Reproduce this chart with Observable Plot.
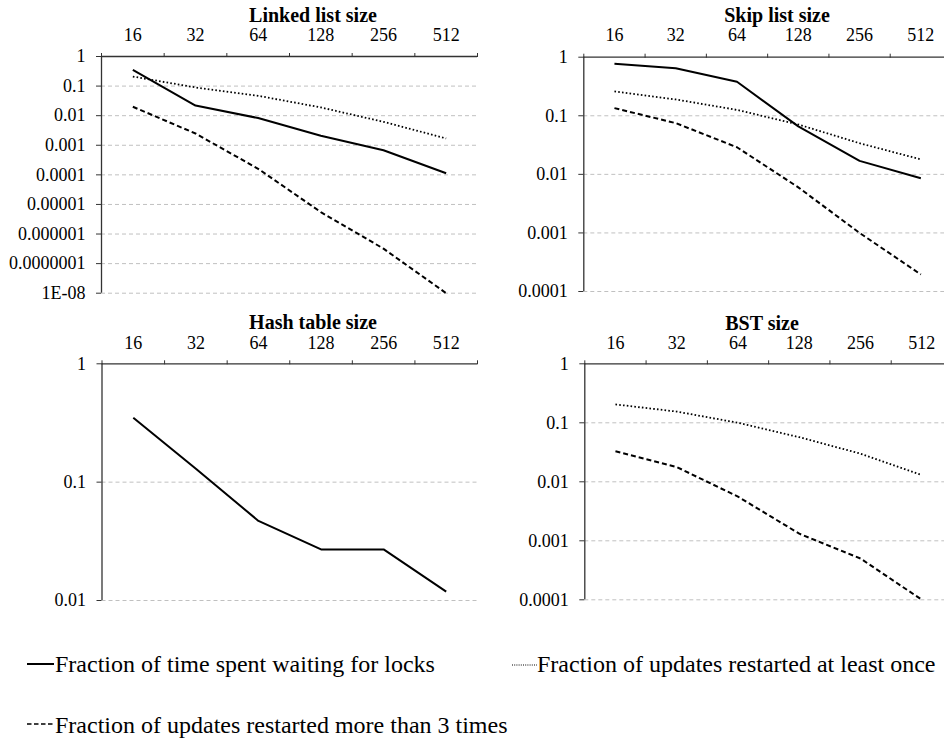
<!DOCTYPE html>
<html>
<head>
<meta charset="utf-8">
<script src="https://cdn.jsdelivr.net/npm/d3@7"></script>
<script src="https://cdn.jsdelivr.net/npm/@observablehq/plot@0.6"></script>
<style>
  html, body { margin: 0; padding: 0; background: #fff; }
  #root { position: relative; width: 944px; height: 740px; overflow: hidden; background: #fff;
          font-family: "Liberation Serif", "Times New Roman", serif; color: #000; }
  .panel { position: absolute; }
  .title { position: absolute; font-weight: bold; font-size: 20px; line-height: 13px; white-space: nowrap; transform: translateX(-50%); }
  .legtext { position: absolute; font-size: 24px; line-height: 24px; white-space: nowrap; }
  .legsample { position: absolute; }
</style>
</head>
<body>
<div id="root"></div>
<script>
// ---------- data ----------
const sizes = [16, 32, 64, 128, 256, 512];
const seriesNames = [
  "Fraction of time spent waiting for locks",
  "Fraction of updates restarted at least once",
  "Fraction of updates restarted more than 3 times"
];
const panelTitles = ["Linked list size", "Skip list size", "Hash table size", "BST size"];

// Linked list
const linkedWait  = [0.35, 0.022, 0.0083, 0.0021, 0.00068, 0.000113];
const linkedOnce  = [0.21, 0.09, 0.047, 0.019, 0.0062, 0.0017];
const linkedMore3 = [0.02, 0.0025, 0.00016, 0.0000055, 0.00000032, 0.00000001];
// Skip list
const skipWait  = [0.77, 0.65, 0.38, 0.066, 0.017, 0.0086];
const skipOnce  = [0.26, 0.19, 0.126, 0.071, 0.034, 0.018];
const skipMore3 = [0.135, 0.075, 0.029, 0.006, 0.001, 0.000195];
// Hash table
const hashWait = [0.35, 0.13, 0.047, 0.027, 0.027, 0.0119];
// BST
const bstOnce  = [0.205, 0.155, 0.10, 0.057, 0.030, 0.013];
const bstMore3 = [0.033, 0.0178, 0.0056, 0.00132, 0.0005, 0.0001];

// y tick values and labels
const ticksLinked  = [1, 0.1, 0.01, 0.001, 0.0001, 0.00001, 0.000001, 0.0000001, 0.00000001];
const labelsLinked = ["1", "0.1", "0.01", "0.001", "0.0001", "0.00001", "0.000001", "0.0000001", "1E-08"];
const ticks4  = [1, 0.1, 0.01, 0.001, 0.0001];
const labels4 = ["1", "0.1", "0.01", "0.001", "0.0001"];
const ticks2  = [1, 0.1, 0.01];
const labels2 = ["1", "0.1", "0.01"];

// ---------- styles ----------
const styles = {
  wait:  {strokeWidth: 2,   strokeDasharray: null},
  once:  {strokeWidth: 1.8, strokeDasharray: "1.6,2.2"},
  more3: {strokeWidth: 2,   strokeDasharray: "5,3"}
};

const root = document.getElementById("root");
const xDomain = [sizes[0] / Math.SQRT2, sizes[sizes.length - 1] * Math.SQRT2];
const xBoundaries = sizes.map(s => s / Math.SQRT2).concat([sizes[sizes.length - 1] * Math.SQRT2]);

function makePanel(cfg) {
  const marks = [];
  const labelMap = new Map(cfg.ticks.map((t, i) => [t, cfg.labels[i]]));
  // dashed gridlines (not the top one, which is the axis line)
  marks.push(Plot.ruleY(cfg.ticks.filter(t => t !== cfg.ticks[0]), {stroke: "#c0c0c0", strokeWidth: 1, strokeDasharray: "4,3"}));
  // series
  for (const s of cfg.series) {
    const data = s.values.map((v, i) => ({size: sizes[i], value: v}));
    marks.push(Plot.line(data, {x: "size", y: "value", stroke: "#000", strokeWidth: styles[s.kind].strokeWidth,
      strokeDasharray: styles[s.kind].strokeDasharray, strokeLinejoin: "miter", strokeLinecap: "butt"}));
  }
  // axis lines
  marks.push(Plot.ruleY([cfg.ticks[0]], {stroke: "#333", strokeWidth: 1.3}));
  marks.push(Plot.ruleX([xDomain[0]], {stroke: "#333", strokeWidth: 1.3}));
  // x ticks at category boundaries, labels at centers (top)
  marks.push(Plot.axisX(xBoundaries, {anchor: "top", tickSize: 4, stroke: "#333", tickFormat: () => "", label: null}));
  marks.push(Plot.axisX(sizes, {anchor: "top", tickSize: 0, tickPadding: cfg.xPad, tickFormat: d => String(d), label: null, fontSize: 18}));
  // y axis
  marks.push(Plot.axisY(cfg.ticks, {anchor: "left", tickSize: 5, tickPadding: 11, stroke: "#333",
    tickFormat: d => labelMap.get(d), label: null, fontSize: 18}));

  const chart = Plot.plot({
    width: cfg.width, height: cfg.height,
    marginLeft: cfg.ml, marginRight: cfg.mr, marginTop: cfg.mt, marginBottom: cfg.mb,
    style: {fontFamily: '"Liberation Serif", "Times New Roman", serif', fontSize: "18px", color: "#000", background: "transparent", overflow: "visible"},
    x: {type: "log", base: 2, domain: xDomain},
    y: {type: "log", domain: [cfg.ticks[cfg.ticks.length - 1], cfg.ticks[0]]},
    marks
  });
  chart.classList.add("panel");
  chart.style.left = cfg.left + "px";
  chart.style.top = cfg.top + "px";
  root.appendChild(chart);

  const t = document.createElement("div");
  t.className = "title";
  t.textContent = cfg.title;
  t.style.left = cfg.titleX + "px";
  t.style.top = (cfg.titleBaseline - 13.25) + "px";
  root.appendChild(t);
}

makePanel({
  title: panelTitles[0], titleX: 313, titleBaseline: 22.3,
  left: 0, top: 0, width: 480, height: 300, ml: 101, mr: 3, mt: 56, mb: 7.3, xPad: 15.8,
  ticks: ticksLinked, labels: labelsLinked,
  series: [{kind: "wait", values: linkedWait}, {kind: "once", values: linkedOnce}, {kind: "more3", values: linkedMore3}]
});
makePanel({
  title: panelTitles[1], titleX: 777, titleBaseline: 22.3,
  left: 470, top: 0, width: 490, height: 300, ml: 113.3, mr: 9, mt: 56.7, mb: 9, xPad: 15.8,
  ticks: ticks4, labels: labels4,
  series: [{kind: "wait", values: skipWait}, {kind: "once", values: skipOnce}, {kind: "more3", values: skipMore3}]
});
makePanel({
  title: panelTitles[2], titleX: 313, titleBaseline: 329.3,
  left: 0, top: 300, width: 480, height: 320, ml: 101.5, mr: 3, mt: 63.3, mb: 20, xPad: 15,
  ticks: ticks2, labels: labels2,
  series: [{kind: "wait", values: hashWait}]
});
makePanel({
  title: panelTitles[3], titleX: 762, titleBaseline: 330.3,
  left: 470, top: 300, width: 490, height: 320, ml: 114.3, mr: 8, mt: 63.3, mb: 20.7, xPad: 15,
  ticks: ticks4, labels: labels4,
  series: [{kind: "once", values: bstOnce}, {kind: "more3", values: bstMore3}]
});

// ---------- legend ----------
const legendItems = [
  {kind: "wait",  name: seriesNames[0], x0: 27,  x1: 54,  textX: 55,  lineY: 664, baseline: 672, width: 2,   dash: null},
  {kind: "once",  name: seriesNames[1], x0: 512, x1: 537, textX: 537, lineY: 665, baseline: 672, width: 1,   dash: "1,1.2"},
  {kind: "more3", name: seriesNames[2], x0: 27,  x1: 55,  textX: 55,  lineY: 724, baseline: 733, width: 1.4, dash: "4.5,2.5"}
];
const NS = "http://www.w3.org/2000/svg";
for (const it of legendItems) {
  const svg = document.createElementNS(NS, "svg");
  svg.setAttribute("class", "legsample");
  svg.setAttribute("width", it.x1 - it.x0);
  svg.setAttribute("height", 6);
  svg.style.left = it.x0 + "px";
  svg.style.top = (it.lineY - 3) + "px";
  const ln = document.createElementNS(NS, "line");
  ln.setAttribute("x1", 0); ln.setAttribute("x2", it.x1 - it.x0);
  ln.setAttribute("y1", 3); ln.setAttribute("y2", 3);
  ln.setAttribute("stroke", "#000");
  ln.setAttribute("stroke-width", it.width);
  if (it.dash) ln.setAttribute("stroke-dasharray", it.dash);
  svg.appendChild(ln);
  root.appendChild(svg);
  const tx = document.createElement("div");
  tx.className = "legtext";
  tx.textContent = it.name;
  tx.style.left = it.textX + "px";
  tx.style.top = (it.baseline - 20.1) + "px";
  root.appendChild(tx);
}
</script>
</body>
</html>
